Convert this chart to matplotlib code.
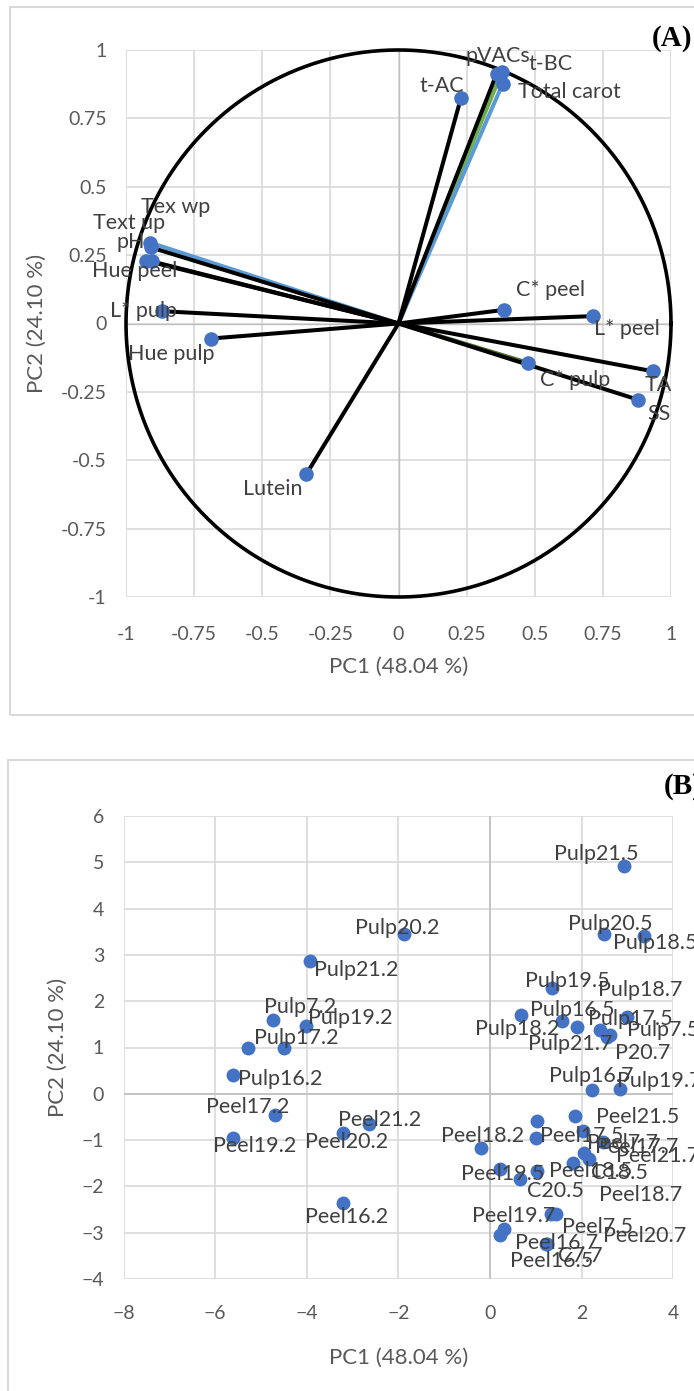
import numpy as np
import matplotlib
matplotlib.use("Agg")
import matplotlib.pyplot as plt
from matplotlib.patches import Rectangle

plt.rcParams['font.family'] = ['Lato', 'DejaVu Sans']

# ---------------- (A) variable loadings ----------------
variables = ["pVACs", "t-BC", "Total carot", "t-AC", "Tex wp", "pH", "Text up",
             "Hue peel", "L* pulp", "Hue pulp", "Lutein", "C* peel", "L* peel",
             "C* pulp", "TA", "SS"]
pc1_loadings = [0.360, 0.379, 0.382, 0.229, -0.912, -0.908, -0.927,
                -0.905, -0.869, -0.689, -0.339, 0.387, 0.715,
                0.476, 0.935, 0.880]
pc2_loadings = [0.913, 0.919, 0.876, 0.824, 0.296, 0.278, 0.230,
                0.227, 0.045, -0.055, -0.552, 0.050, 0.027,
                -0.144, -0.175, -0.279]
vector_colors = ["black", "#70AD47", "#5B9BD5", "black", "#5B9BD5", "black", "black",
                 "black", "black", "black", "black", "black", "black",
                 "#4E6B2E", "black", "black"]
# label offsets in pixels (right, up)
label_offsets_a = [(1, 18), (49, 8), (67, -8), (-19, 12), (26, 36), (-20, 5), (-17, 38),
                   (-17, -10), (-18, 0), (-39, -15), (-33, -15), (47, 20), (34, -13),
                   (47, -17), (5, -14), (21, -14)]
axis_ticks_a = [-1, -0.75, -0.5, -0.25, 0, 0.25, 0.5, 0.75, 1]
tick_labels_a = ["-1", "-0.75", "-0.5", "-0.25", "0", "0.25", "0.5", "0.75", "1"]

# ---------------- (B) sample scores ----------------
samples = ["Pulp21.5", "Pulp20.5", "Pulp18.5", "Pulp19.5", "Pulp18.7", "Pulp16.5",
           "Pulp17.5", "Pulp18.2", "Pulp7.5", "Pulp21.7", "P20.7", "Pulp16.7",
           "Pulp19.7", "Pulp20.2", "Pulp21.2", "Pulp7.2", "Pulp19.2", "",
           "Pulp17.2", "Pulp16.2",
           "Peel17.2", "Peel19.2", "Peel21.2", "Peel20.2", "Peel16.2",
           "", "Peel21.5", "Peel17.5", "Peel7.7", "Peel17.7", "Peel18.2",
           "Peel21.7", "Peel18.7", "C18.5", "Peel19.5", "Peel18.5", "C20.5",
           "Peel20.7", "Peel7.5", "Peel19.7", "Peel16.7", "Peel16.5", "C7.7"]
pc1_scores = [2.93, 2.48, 3.36, 1.36, 2.98, 1.57,
              2.39, 0.68, 2.55, 1.89, 2.62, 2.23,
              2.84, -1.88, -3.92, -4.73, -4.02, -5.29,
              -4.50, -5.60,
              -4.70, -5.60, -2.65, -3.20, -3.20,
              1.02, 1.86, 1.00, 2.02, 2.46, -0.20,
              2.05, 2.17, 1.82, 0.22, 1.03, 0.66,
              1.44, 1.33, 0.31, 0.22, 1.23, 1.25]
pc2_scores = [4.91, 3.46, 3.40, 2.28, 1.65, 1.57,
              1.38, 1.71, 1.23, 1.45, 1.28, 0.08,
              0.11, 3.46, 2.86, 1.60, 1.47, 0.99,
              0.99, 0.40,
              -0.45, -0.95, -0.65, -0.85, -2.35,
              -0.58, -0.49, -0.95, -0.80, -1.04, -1.16,
              -1.27, -1.41, -1.49, -1.63, -1.67, -1.85,
              -2.59, -2.60, -2.93, -3.05, -3.25, -3.24]
label_offsets_b = [(-28, 12), (7, 10), (11, -7), (15, 7), (14, 27), (10, 11),
                   (31, 11), (-4, -14), (56, 7), (-6, -17), (33, -18), (-1, 14),
                   (39, 8), (-7, 6), (46, -9), (27, 13), (44, 8), (0, 0),
                   (12, 10), (47, -4),
                   (-27, 8), (21, -8), (11, 4), (3, -9), (3, -14),
                   (0, 0), (62, -1), (46, 2), (40, -12), (34, -5), (2, 12),
                   (74, -3), (51, -36), (46, -10), (3, -5), (53, 0), (35, -12),
                   (89, -22), (47, -13), (9, 13), (57, -8), (5, -17), (33, -12)]
x_ticks_b = [-8, -6, -4, -2, 0, 2, 4]
y_ticks_b = [-4, -3, -2, -1, 0, 1, 2, 3, 4, 5, 6]

W, H = 694, 1391
fig = plt.figure(figsize=(W / 100, H / 100), dpi=100)

GRID = "#D9D9D9"
TICK = "#595959"
LABEL = "#404040"
BLUE = "#4472C4"
LABEL_SIZE = 15.5
TICK_SIZE = 14
TITLE_SIZE = 16


def rect(l, t, r, b):
    return [l / W, 1 - b / H, (r - l) / W, (b - t) / H]


def style_axes(ax):
    for s in ax.spines.values():
        s.set_visible(False)
    ax.grid(True, color=GRID, lw=1.2, zorder=0)
    ax.set_axisbelow(True)
    ax.tick_params(length=0, labelsize=TICK_SIZE, labelcolor=TICK, pad=14)


# chart frames
fig.patches.append(Rectangle((10 / W, 1 - 715 / H), 700 / W, 708 / H,
                             transform=fig.transFigure, fill=False,
                             edgecolor=GRID, lw=1.5))
fig.patches.append(Rectangle((8 / W, 1 - 1400 / H), 700 / W, 640 / H,
                             transform=fig.transFigure, fill=False,
                             edgecolor=GRID, lw=1.5))

# ---- panel A ----
axA = fig.add_axes(rect(126, 50, 671, 597))
style_axes(axA)
axA.set_xlim(-1, 1)
axA.set_ylim(-1, 1)
axA.set_xticks(axis_ticks_a)
axA.set_xticklabels(tick_labels_a)
axA.set_yticks(axis_ticks_a)
axA.set_yticklabels(tick_labels_a)
axA.tick_params(axis="x", pad=21)
axA.axhline(0, color="#BFBFBF", lw=1, zorder=1)
axA.axvline(0, color="#BFBFBF", lw=1, zorder=1)

theta = np.linspace(0, 2 * np.pi, 400)
axA.plot(np.cos(theta), np.sin(theta), color="black", lw=2.6, clip_on=False, zorder=3)

for x, y, c in zip(pc1_loadings, pc2_loadings, vector_colors):
    if c != "black":
        axA.plot([0, x], [0, y], color=c, lw=2.9, zorder=2, solid_capstyle="butt")
for x, y, c in zip(pc1_loadings, pc2_loadings, vector_colors):
    if c == "black":
        axA.plot([0, x], [0, y], color=c, lw=2.9, zorder=2.5, solid_capstyle="butt")
axA.plot(pc1_loadings, pc2_loadings, "o", color=BLUE, ms=10.5, mew=0, zorder=4,
         clip_on=False)
for name, x, y, off in zip(variables, pc1_loadings, pc2_loadings, label_offsets_a):
    axA.annotate(name, (x, y), xytext=off, textcoords="offset pixels",
                 ha="center", va="center", fontsize=LABEL_SIZE, color=LABEL, zorder=5)

axA.set_xlabel("PC1 (48.04 %)", fontsize=TITLE_SIZE, color=TICK, labelpad=10)
axA.set_ylabel("PC2 (24.10 %)", fontsize=TITLE_SIZE, color=TICK, labelpad=10)
fig.text(692 / W, 1 - 38 / H, "(A)", ha="right", va="center", fontsize=21,
         fontweight="bold", family="Liberation Serif", color="black")

# ---- panel B ----
axB = fig.add_axes(rect(123.5, 816, 673.3, 1279))
style_axes(axB)
axB.set_xlim(-8, 4)
axB.set_ylim(-4, 6)
axB.set_xticks(x_ticks_b)
axB.set_yticks(y_ticks_b)
axB.tick_params(axis="x", pad=19)
axB.axhline(0, color="#BFBFBF", lw=1.2, zorder=1)
axB.axvline(0, color="#BFBFBF", lw=1.2, zorder=1)
axB.plot(pc1_scores, pc2_scores, "o", color=BLUE, ms=10, mew=0, zorder=4)
for name, x, y, off in zip(samples, pc1_scores, pc2_scores, label_offsets_b):
    if name:
        axB.annotate(name, (x, y), xytext=off, textcoords="offset pixels",
                     ha="center", va="center", fontsize=LABEL_SIZE, color=LABEL, zorder=5)
axB.set_xlabel("PC1 (48.04 %)", fontsize=TITLE_SIZE, color=TICK, labelpad=18)
axB.set_ylabel("PC2 (24.10 %)", fontsize=TITLE_SIZE, color=TICK, labelpad=10)
fig.text(664 / W, 1 - 786 / H, "(B)", ha="left", va="center", fontsize=21,
         fontweight="bold", family="Liberation Serif", color="black")

fig.savefig("out.png", dpi=100)
